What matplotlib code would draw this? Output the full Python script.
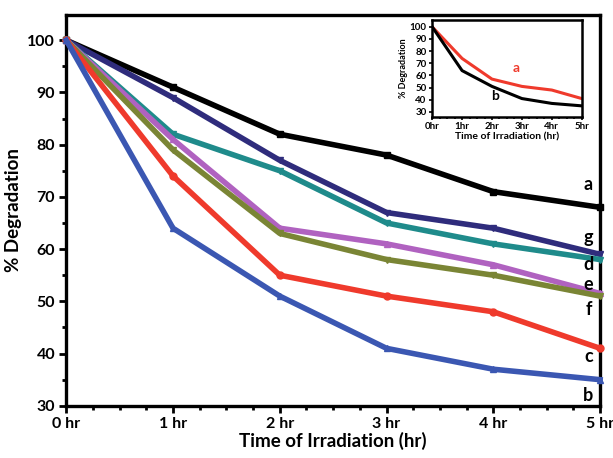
import matplotlib
matplotlib.use("Agg")
import matplotlib.pyplot as plt
from matplotlib.ticker import MultipleLocator

plt.rcParams['font.family'] = ['Lato', 'DejaVu Sans']
plt.rcParams['font.weight'] = 'bold'

hours = [0, 1, 2, 3, 4, 5]
hour_labels = ["0 hr", "1 hr", "2 hr", "3 hr", "4 hr", "5 hr"]

# % degradation
deg_a = [100, 91, 82, 78, 71, 68]
deg_g = [100, 89, 77, 67, 64, 59]
deg_d = [100, 82, 75, 65, 61, 58]
deg_e = [100, 81, 64, 61, 57, 51.5]
deg_f = [100, 79, 63, 58, 55, 51]
deg_c = [100, 74, 55, 51, 48, 41]
deg_b = [100, 64, 51, 41, 37, 35]

inset_a = [100, 74, 57, 51, 48, 41]
inset_b = [100, 64, 51, 41, 37, 35]

series = [
	("a", deg_a, "#000000", "s", 72.3),
	("g", deg_g, "#2f2c7c", "v", 62.3),
	("d", deg_d, "#1f8b8b", "v", 57.0),
	("e", deg_e, "#b062c0", "^", 53.3),
	("f", deg_f, "#7a8535", "v", 48.4),
	("c", deg_c, "#ef3a2c", "o", 39.4),
	("b", deg_b, "#3b57b2", "^", 32.0),
]

fig = plt.figure(figsize=(6.13, 4.58), dpi=100)
ax = fig.add_axes([0.108, 0.114, 0.871, 0.853])

for name, vals, col, mk, ly in series:
	ax.plot(hours, vals, color=col, lw=4.0, marker=mk, ms=5, mec=col, mfc=col, clip_on=False, zorder=3)
	ax.text(4.89, ly, name, ha="center", va="center", fontsize=13, fontweight="bold")

ax.set_xlim(0, 5)
ax.set_ylim(30, 104.8)
ax.set_xticks(hours)
ax.set_xticklabels(hour_labels)
ax.xaxis.set_minor_locator(MultipleLocator(0.25))
ax.yaxis.set_major_locator(MultipleLocator(10))
ax.yaxis.set_minor_locator(MultipleLocator(5))
ax.tick_params(which="major", length=5, width=2, labelsize=11.5, pad=3)
ax.tick_params(which="minor", length=3, width=2)
for s in ax.spines.values():
	s.set_linewidth(2.4)
ax.set_xlabel("Time of Irradiation (hr)", fontsize=13.5, fontweight="bold", labelpad=1)
ax.set_ylabel("% Degradation", fontsize=13.5, fontweight="bold", labelpad=4)

# inset
ins = fig.add_axes([0.705, 0.745, 0.244, 0.211])
ins.plot(hours, inset_a, color="#ef3a2c", lw=2.2)
ins.plot(hours, inset_b, color="#000000", lw=2.2)
ins.text(2.8, 66, "a", color="#ef3a2c", fontsize=10, fontweight="bold", ha="center", va="center")
ins.text(2.1, 43, "b", color="#000000", fontsize=10, fontweight="bold", ha="center", va="center")
ins.set_xlim(0, 5)
ins.set_ylim(26, 105.5)
ins.set_xticks(hours)
ins.set_xticklabels([h.replace(" ", "") for h in hour_labels])
ins.yaxis.set_major_locator(MultipleLocator(10))
ins.xaxis.set_minor_locator(MultipleLocator(0.25))
ins.tick_params(which="major", length=2.5, width=1.2, labelsize=7, pad=1.5)
ins.tick_params(which="minor", length=1.5, width=1.2)
for s in ins.spines.values():
	s.set_linewidth(1.8)
ins.set_xlabel("Time of Irradiation (hr)", fontsize=7.5, fontweight="bold", labelpad=1)
ins.set_ylabel("% Degradation", fontsize=6.5, fontweight="bold", labelpad=1)

fig.savefig("out.png", dpi=100)
